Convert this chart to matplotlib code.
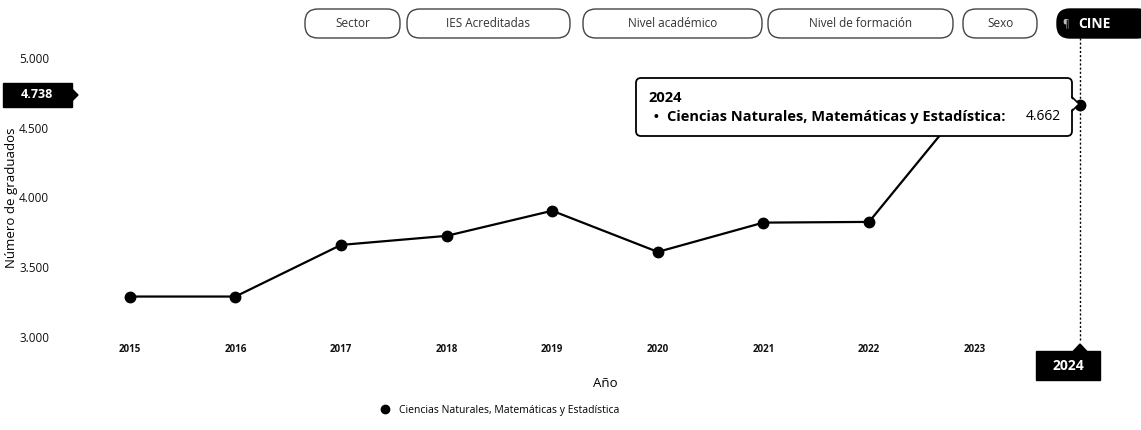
import matplotlib
matplotlib.use("Agg")
import matplotlib.pyplot as plt
from matplotlib.patches import FancyBboxPatch, Polygon
from matplotlib.lines import Line2D

# ---- data ----
years = ["2015", "2016", "2017", "2018", "2019", "2020", "2021", "2022", "2023", "2024"]
graduados = [3290, 3290, 3660, 3725, 3905, 3610, 3820, 3825, 4750, 4662]
series_name = "Ciencias Naturales, Matemáticas y Estadística"
y_ticks = [3000, 3500, 4000, 4500, 5000]
y_tick_labels = ["3.000", "3.500", "4.000", "4.500", "5.000"]
buttons = ["Sector", "IES Acreditadas", "Nivel académico", "Nivel de formación", "Sexo", "CINE"]
hover_year = "2024"
cursor_value = 4738

FONT = ["Open Sans", "DejaVu Sans"]
plt.rcParams["font.family"] = FONT

W, H = 1141, 430
fig = plt.figure(figsize=(W / 100, H / 100), dpi=100)
fig.patch.set_facecolor("white")

def fx(px):
    return px / W

def fy(py):
    return 1 - py / H

ax = fig.add_axes([fx(77), fy(337), fx(1133) - fx(77), fy(58) - fy(337)])
x = list(range(len(years)))
ax.plot(x, graduados, color="black", lw=1.6, marker="o", ms=7.5, zorder=3)
ax.set_xlim(-0.5, len(years) - 0.5)
ax.set_ylim(3000, 5000)
ax.set_yticks(y_ticks)
ax.set_yticklabels(y_tick_labels, fontsize=8.5, color="#111111")
ax.set_xticks(x)
ax.set_xticklabels(years, fontsize=7, fontweight="bold", color="#111111")
hx = years.index(hover_year)
ax.get_xticklabels()[hx].set_visible(False)
ax.tick_params(axis="y", length=0, pad=20)
ax.tick_params(axis="x", length=0, pad=5)
for s in ax.spines.values():
    s.set_visible(False)
ax.set_ylabel("Número de graduados", fontsize=9.5, labelpad=1)
ax.set_xlabel("Año", fontsize=9.5, labelpad=16)

# crosshair
ax.axvline(hx, ymin=-0.01, ymax=1.12, color="black", lw=1, ls=(0, (1.5, 1.5)), clip_on=False, zorder=2)

# legend
leg = fig.legend(handles=[Line2D([], [], color="black", marker="o", ls="none", ms=6)],
                 labels=[series_name], loc="center", bbox_to_anchor=(fx(497), fy(410)),
                 frameon=False, fontsize=7.5, handletextpad=0.3)

# overlay for UI elements
ov = fig.add_axes([0, 0, 1, 1])
ov.set_xlim(0, W)
ov.set_ylim(H, 0)
ov.axis("off")
ov.set_zorder(5)

# buttons
btn_x = [(305, 400), (407, 570), (583, 762), (768, 953), (963, 1037), (1057, 1150)]
for (x0, x1), name in zip(btn_x, buttons):
    sel = name == "CINE"
    ov.add_patch(FancyBboxPatch((x0, 9), x1 - x0, 29, boxstyle="round,pad=0,rounding_size=13",
                                fc="black" if sel else "white", ec="black" if sel else "#444444",
                                lw=1.0, clip_on=False))
    if sel:
        ov.text(1066, 23.5, "¶", ha="center", va="center", fontsize=7, color="#bbbbbb")
        ov.text(1094, 23.5, name, ha="center", va="center", fontsize=10,
                color="white", fontweight="bold")
    else:
        ov.text((x0 + x1) / 2, 23.5, name, ha="center", va="center",
                fontsize=8.5, color="#333333")

# tooltip
ov.add_patch(FancyBboxPatch((636, 78), 436, 58, boxstyle="round,pad=0,rounding_size=5",
                            fc="white", ec="black", lw=1.3))
ov.add_patch(Polygon([(1072, 97), (1079, 104), (1072, 111)], closed=True, fc="white", ec="black", lw=1.2))
ov.add_patch(Polygon([(1071, 98), (1077.5, 104), (1071, 110)], closed=True, fc="white", ec="none"))
ov.text(648, 98, hover_year, fontsize=10.5, fontweight="bold", va="center", ha="left")
ov.text(652, 118, "•", fontsize=13, va="center", ha="left")
ov.text(667, 117, series_name + ":", fontsize=10.5, fontweight="bold", va="center", ha="left")
val = graduados[hx]
ov.text(1061, 117, f"{val/1000:.3f}", fontsize=10, va="center", ha="right")

# y cursor label
ov.add_patch(FancyBboxPatch((3, 83), 69, 24, boxstyle="square,pad=0", fc="black", ec="black"))
ov.add_patch(Polygon([(72, 89), (78, 95), (72, 101)], closed=True, fc="black", ec="black"))
ov.text(37, 95, f"{cursor_value/1000:.3f}", color="white", fontsize=9, fontweight="bold",
        ha="center", va="center")

# x cursor label
ov.add_patch(FancyBboxPatch((1036, 351), 64, 29, boxstyle="square,pad=0", fc="black", ec="black"))
ov.add_patch(Polygon([(1073, 351.5), (1080, 344), (1087, 351.5)], closed=True, fc="black", ec="black"))
ov.text(1068, 366, hover_year, color="white", fontsize=10, fontweight="bold", ha="center", va="center")

fig.savefig("out.png", dpi=100)
